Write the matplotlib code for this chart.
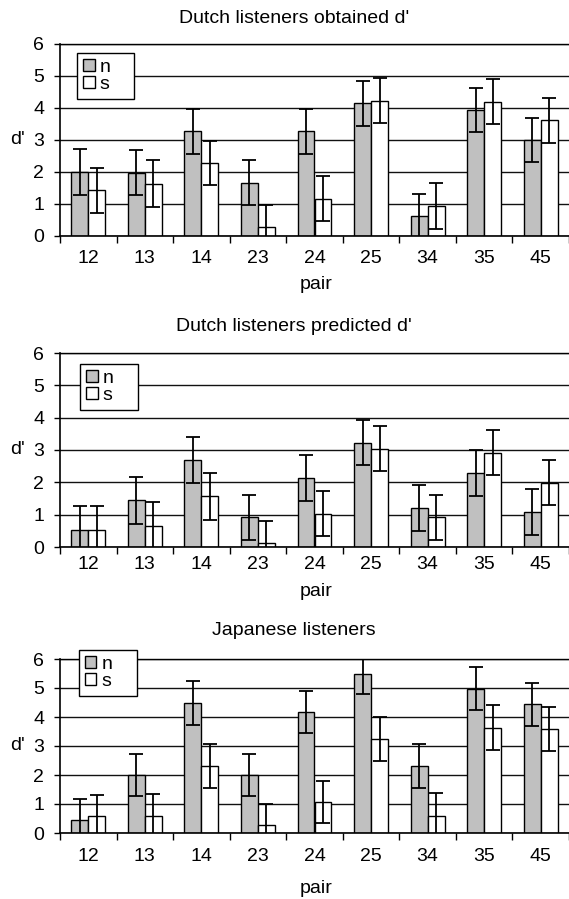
import matplotlib.pyplot as plt
import numpy as np

plt.rcParams['font.family'] = ['Liberation Sans', 'DejaVu Sans']

pairs = ['12', '13', '14', '23', '24', '25', '34', '35', '45']
titles = ["Dutch listeners obtained d'", "Dutch listeners predicted d'", "Japanese listeners"]

# d' values per pair (n = grey bars, s = white bars) and error half-widths
obtained_n = [2.00, 1.98, 3.27, 1.67, 3.27, 4.15, 0.62, 3.93, 3.00]
obtained_n_err = [0.72, 0.70, 0.70, 0.70, 0.70, 0.70, 0.70, 0.69, 0.70]
obtained_s = [1.43, 1.63, 2.28, 0.27, 1.16, 4.23, 0.93, 4.20, 3.62]
obtained_s_err = [0.70, 0.73, 0.70, 0.70, 0.70, 0.70, 0.72, 0.70, 0.70]

predicted_n = [0.54, 1.45, 2.69, 0.92, 2.14, 3.23, 1.22, 2.30, 1.07]
predicted_n_err = [0.73, 0.73, 0.70, 0.70, 0.71, 0.70, 0.71, 0.71, 0.71]
predicted_s = [0.54, 0.65, 1.57, 0.11, 1.03, 3.04, 0.92, 2.92, 1.99]
predicted_s_err = [0.73, 0.74, 0.72, 0.70, 0.70, 0.69, 0.70, 0.70, 0.70]

japanese_n = [0.44, 2.00, 4.48, 2.00, 4.18, 5.50, 2.31, 4.97, 4.44]
japanese_n_err = [0.72, 0.73, 0.75, 0.73, 0.73, 0.72, 0.77, 0.74, 0.74]
japanese_s = [0.57, 0.57, 2.31, 0.27, 1.08, 3.25, 0.60, 3.63, 3.59]
japanese_s_err = [0.73, 0.76, 0.75, 0.73, 0.73, 0.75, 0.78, 0.77, 0.75]

panels = [
    (obtained_n, obtained_n_err, obtained_s, obtained_s_err),
    (predicted_n, predicted_n_err, predicted_s, predicted_s_err),
    (japanese_n, japanese_n_err, japanese_s, japanese_s_err),
]

W, H = 569, 899
fig = plt.figure(figsize=(W / 100, H / 100), dpi=100)

# axes boxes in pixels: (top, bottom)
boxes = [(44, 236), (353, 547), (659, 833)]
left_px = 60
title_top = [10, 318, 622]
pair_base = [289, 596, 893]
tick_pad = [10.4, 6.8, 11.0]
legend_box = [(0.0334, 0.693, 0.112, 0.26),
              (0.0393, 0.686, 0.114, 0.257),
              (0.0373, 0.770, 0.114, 0.282)]

fs = 14
x = np.arange(len(pairs))
w = 0.3

for i, (n, n_err, s, s_err) in enumerate(panels):
    top, bot = boxes[i]
    ax = fig.add_axes([left_px / W, 1 - bot / H, 1 - left_px / W, (bot - top) / H])

    ax.set_axisbelow(True)
    ax.yaxis.grid(True, color='#111111', linewidth=1.0)
    err_kw = dict(ecolor='black', elinewidth=1.3, capsize=5, capthick=1.3)
    bn = ax.bar(x - w / 2, n, w, yerr=n_err, color='#c0c0c0', edgecolor='black',
                linewidth=1.0, label='n', error_kw=err_kw)
    bs = ax.bar(x + w / 2, s, w, yerr=s_err, color='white', edgecolor='black',
                linewidth=1.0, label='s', error_kw=err_kw)

    ax.set_ylim(0, 6)
    ax.set_xlim(-0.5, len(pairs) - 0.5)
    ax.set_yticks(range(7))
    ax.tick_params(axis='y', labelsize=fs, length=6 * 0.72, width=1.0, pad=7.2)

    ax.set_xticks(np.arange(len(pairs) + 1) - 0.5)
    ax.set_xticklabels([])
    ax.set_xticks(x, minor=True)
    ax.set_xticklabels(pairs, minor=True)
    ax.tick_params(axis='x', which='major', length=5, width=1.0)
    ax.tick_params(axis='x', which='minor', length=0, labelsize=fs, pad=tick_pad[i])

    for side in ['left', 'bottom']:
        ax.spines[side].set_linewidth(1.2)
    ax.spines['top'].set_linewidth(1.0)
    ax.spines['right'].set_visible(False)

    ax.set_ylabel("d'", rotation=0, fontsize=fs, va='center', ha='center')
    ax.yaxis.set_label_coords(-0.0835, 0.5)

    leg = ax.legend(handles=[bn, bs], loc='upper left', bbox_to_anchor=legend_box[i],
                    mode='expand', borderaxespad=0, fontsize=fs, frameon=True,
                    fancybox=False, framealpha=1, edgecolor='black',
                    handlelength=0.6, handleheight=0.6, handletextpad=0.25,
                    labelspacing=0.0, borderpad=0.3)
    leg.get_frame().set_linewidth(1.0)
    for h in leg.legend_handles:
        h.set_linewidth(1.0)

    fig.text(294 / W, 1 - title_top[i] / H, titles[i], fontsize=fs, ha='center', va='top')
    fig.text(316 / W, 1 - pair_base[i] / H, 'pair', fontsize=fs, ha='center', va='baseline')

fig.savefig('out.png', dpi=100)
